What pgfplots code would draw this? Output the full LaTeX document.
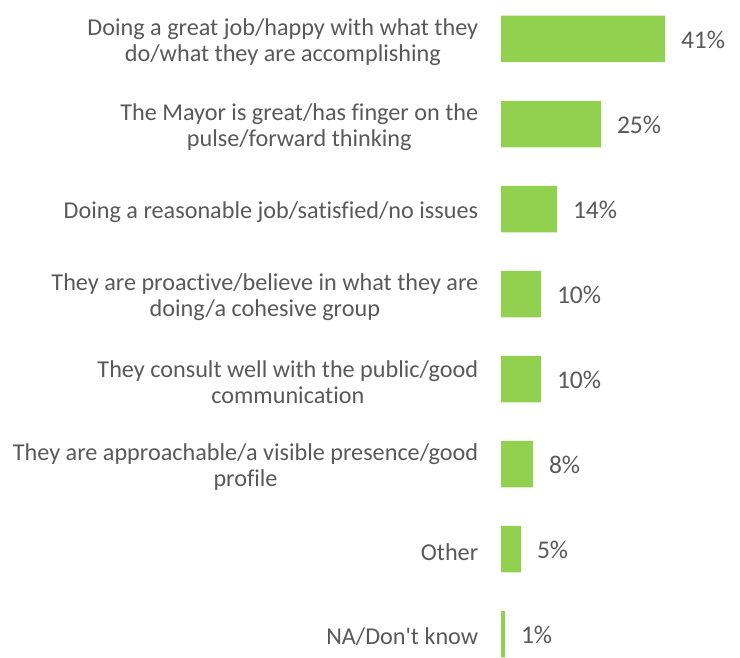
\documentclass[border=0pt]{standalone}
\usepackage{pgfplots}
\pgfplotsset{compat=1.18}
\usepackage{fontspec}
\setmainfont[Ligatures=NoCommon]{Carlito}
\definecolor{bargreen}{HTML}{92D050}
\definecolor{txt}{HTML}{595959}
\begin{document}
\begin{tikzpicture}
\begin{axis}[
  scale only axis, width=740pt, height=657pt,
  xmin=-125.25, xmax=59.75,
  ymin=-0.4588, ymax=7.2706, y dir=reverse,
  xbar, bar width=46.5pt, bar shift=0pt,
  axis line style={draw=none}, tick style={draw=none},
  xtick=\empty,
  ytick={0,1,2,3,4,5,6,7},
  yticklabels={
    {Doing a great job/happy with what they\\do/what they are accomplishing},
    {The Mayor is great/has finger on the\\pulse/forward thinking},
    {Doing a reasonable job/satisfied/no issues},
    {They are proactive/believe in what they are\\doing/a cohesive group},
    {They consult well with the public/good\\communication},
    {They are approachable/a visible presence/good\\profile},
    {Other},
    {NA/Don\textquotesingle t know}},
  yticklabel style={anchor=east, xshift=486pt, yshift=-3pt, align=center,
    font=\fontsize{24.2}{26}\selectfont, text=txt},
  /pgf/number format/assume math mode=true,
  nodes near coords={\pgfmathprintnumber[assume math mode=true]{\pgfplotspointmeta}\%},
  nodes near coords style={anchor=west, xshift=12.5pt, yshift=-1pt,
    font=\fontsize{25.5}{26}\selectfont, text=txt},
  point meta=x,
]
\addplot[fill=bargreen, draw=none] coordinates {
  (41,0) (25,1) (14,2) (10,3) (10,4) (8,5) (5,6) (1,7)};
\end{axis}
\pgfresetboundingbox
\useasboundingbox (current axis.south west) rectangle (current axis.north east);
\end{tikzpicture}
\end{document}
